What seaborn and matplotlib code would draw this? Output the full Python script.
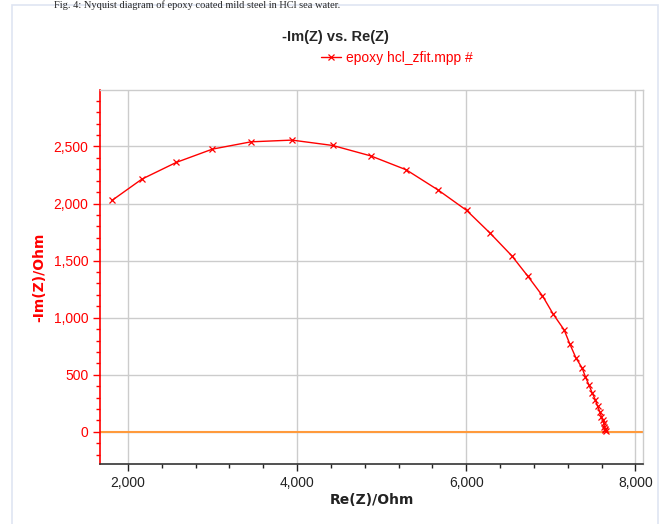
import numpy as np
import pandas as pd
import seaborn as sns
import matplotlib.pyplot as plt
from matplotlib.ticker import MultipleLocator, FuncFormatter
from matplotlib.patches import Rectangle

# === Data ===
re_z = [1811, 2165, 2570, 2999, 3456, 3940, 4421, 4870, 5290, 5667,
        6005, 6282, 6539, 6731, 6901, 7031, 7157, 7224, 7298, 7369,
        7409, 7452, 7487, 7527, 7554, 7578, 7598, 7613, 7625, 7634,
        7641, 7645, 7648]
neg_im_z = [2027, 2214, 2360, 2477, 2541, 2556, 2509, 2418, 2296, 2119,
            1940, 1741, 1542, 1361, 1192, 1028, 894, 771, 646, 561,
            482, 409, 344, 280, 222, 178, 134, 105, 79, 46,
            26, 14, 5]
series_name = "epoxy hcl_zfit.mpp #"

df = pd.DataFrame({"re": re_z, "im": neg_im_z, "file": series_name})

sns.set_theme(style="whitegrid")
plt.rcParams['font.family'] = ['Liberation Sans', 'DejaVu Sans']

fig = plt.figure(figsize=(6.7, 5.24), dpi=100)
ax = fig.add_axes([100 / 670, 1 - 464 / 524, 543 / 670, 374 / 524])
ax.set_facecolor("white")

# page frame + caption from the document
fig.patches.append(Rectangle((12 / 670, -0.1), 646 / 670, 1.09, transform=fig.transFigure,
                             fill=False, edgecolor="#dfe5f2", lw=1.2))
fig.text(0.08, 0.999, "Fig. 4: Nyquist diagram of epoxy coated mild steel in HCl sea water.",
         fontsize=7.5, family="Liberation Serif", va="top", ha="left")

# === orange zero line + curve ===
ax.axhline(0, color="#ff9a3c", lw=1.5, zorder=2)
sns.lineplot(data=df, x="re", y="im", hue="file", palette=["red"], sort=False,
             estimator=None, marker="x", markersize=5, markeredgewidth=0.9,
             markeredgecolor="red", lw=1.0, ax=ax, zorder=3)

ax.set_xlim(1670, 8090)
ax.set_ylim(-282, 2995)
ax.xaxis.set_major_locator(MultipleLocator(2000))
ax.xaxis.set_minor_locator(MultipleLocator(400))
ax.yaxis.set_major_locator(MultipleLocator(500))
ax.yaxis.set_minor_locator(MultipleLocator(100))
fmt = FuncFormatter(lambda v, p: f"{int(v):,}")
ax.xaxis.set_major_formatter(fmt)
ax.yaxis.set_major_formatter(fmt)

ax.grid(True, which="major", color="#cccccc", lw=1.0)
ax.grid(False, which="minor")

ax.tick_params(axis="x", which="both", direction="out", bottom=True, colors="#222222",
               labelsize=10)
ax.tick_params(axis="x", which="major", length=5, width=1)
ax.tick_params(axis="x", which="minor", length=3, width=1)
ax.tick_params(axis="y", which="both", direction="out", left=True, colors="red",
               labelsize=10)
ax.tick_params(axis="y", which="major", length=5, width=1)
ax.tick_params(axis="y", which="minor", length=3, width=1)

for s in ["top", "right"]:
    ax.spines[s].set_color("#cccccc")
    ax.spines[s].set_linewidth(1.0)
ax.spines["left"].set_color("red")
ax.spines["left"].set_linewidth(1.2)
ax.spines["bottom"].set_color("#333333")
ax.spines["bottom"].set_linewidth(1.2)

ax.set_xlabel("Re(Z)/Ohm", fontsize=10, fontweight="bold", color="#222222",
              family="DejaVu Sans", labelpad=2)
ax.set_ylabel("-Im(Z)/Ohm", fontsize=10, fontweight="bold", color="red",
              family="DejaVu Sans", labelpad=5)

# === title and legend ===
fig.text(0.5, 1 - 37 / 524, "-Im(Z) vs. Re(Z)", ha="center", va="center",
         fontsize=10.5, fontweight="bold")
ax.get_legend().remove()
h, l = ax.get_legend_handles_labels()
leg = fig.legend(h, l, loc="center", bbox_to_anchor=(397 / 670, 1 - 58 / 524),
                 frameon=False, fontsize=10, handlelength=1.4, handletextpad=0.4)
for t in leg.get_texts():
    t.set_color("red")

plt.savefig("out.png", dpi=100)
